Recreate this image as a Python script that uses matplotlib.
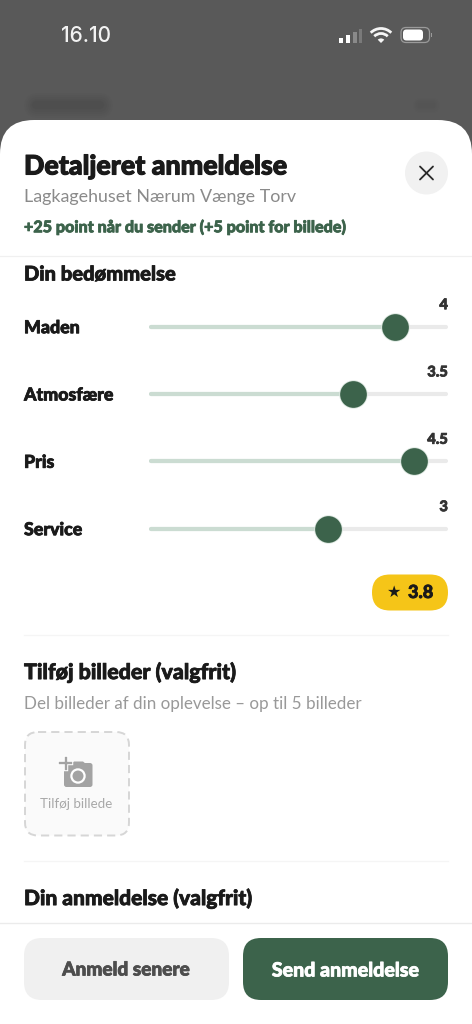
import matplotlib
matplotlib.use("Agg")
import matplotlib.pyplot as plt
import matplotlib.patheffects as pe
from matplotlib.patches import FancyBboxPatch, Circle, Rectangle, Arc, Wedge, Polygon

# --- data ---
categories = ["Maden", "Atmosfære", "Pris", "Service"]
rating_labels = ["4", "3.5", "4.5", "3"]
knob_fractions = [0.823, 0.682, 0.886, 0.600]
overall_rating = "3.8"

W, H = 472, 1024
GREEN = "#3C634B"
DARK = "#1A1A1A"
HEAVY = dict(family="Lato", weight=900)
REG = dict(family="Lato", weight=400)

fig = plt.figure(figsize=(W / 100, H / 100), dpi=100, facecolor="white")
ax = fig.add_axes([0, 0, 1, 1])
ax.set_xlim(0, W)
ax.set_ylim(H, 0)
ax.axis("off")


def rbox(x0, y0, x1, y1, r, **kw):
    p = FancyBboxPatch((x0 + r, y0 + r), x1 - x0 - 2 * r, y1 - y0 - 2 * r,
                       boxstyle=f"round,pad={r},rounding_size={r}", **kw)
    ax.add_patch(p)
    return p


def T(x, y, s, size, color=DARK, font=HEAVY, ha="left", target=None, stroke=None):
    t = (target or ax).text(x, y, s, fontsize=size, color=color, ha=ha, va="center", **font)
    if font is HEAVY:
        sw = stroke if stroke is not None else 0.55
        t.set_path_effects([pe.withStroke(linewidth=sw, foreground=color)])
    return t


# dim backdrop
ax.add_patch(Rectangle((0, 0), W, 200, fc="#595959", ec="none", zorder=0))
for lw, al in [(18, .03), (15, .04), (12, .05), (9, .06), (6, .07)]:
    ax.plot([36, 100], [105, 105], color="#333333", lw=lw, alpha=al, solid_capstyle="round", zorder=1)
    ax.plot([420, 432], [105, 105], color="#4a4a4a", lw=lw * .6, alpha=al * .5, solid_capstyle="round", zorder=1)

# status bar
T(61, 36, "16.10", 15, color="#F2F2F2", font=dict(family="Inter", weight=500))
for x, h, c in [(339, 5, "#FFFFFF"), (346, 8, "#FFFFFF"), (353, 11, "#8a8a8a"), (358.5, 14, "#7a7a7a")]:
    ax.add_patch(Rectangle((x, 42.5 - h), 3.8, h, fc=c, ec="none", zorder=3))
for r, lw in [(14.5, 2.0), (9.5, 2.0)]:
    ax.add_patch(Arc((381, 43), 2 * r, 2 * r, theta1=225, theta2=315, color="#F5F5F5", lw=lw, zorder=3))
ax.add_patch(Wedge((381, 43), 4.6, 225, 315, fc="#F5F5F5", ec="none", zorder=3))
rbox(401, 27.5, 429.5, 42.5, 5, fc="none", ec="#9a9a9a", lw=0.9, zorder=3)
rbox(403, 29.5, 423, 40.5, 3.5, fc="#FFFFFF", ec="none", zorder=4)
ax.add_patch(Rectangle((431, 33), 1.2, 4, fc="#9a9a9a", ec="none", zorder=3))

# sheet
rbox(0, 120, W, H + 60, 34, fc="white", ec="none", zorder=2)

# header
T(24, 166.5, "Detaljeret anmeldelse", 19.3, stroke=0.8)
T(24, 197, "Lagkagehuset Nærum Vænge Torv", 12.85, color="#8A8A8A", font=REG)
T(24, 227, "+25 point når du sender (+5 point for billede)", 11.6, color=GREEN)
ax.add_patch(Circle((426.5, 173), 21.5, fc="#F1F1F1", ec="none", zorder=3))
for dx in (-6.5, 6.5):
    ax.plot([426.5 - dx, 426.5 + dx], [166.5, 179.5], color="#2A2A2A", lw=1.3, zorder=4, solid_capstyle="round")
ax.plot([0, W], [255.5, 255.5], color="#F0F0F0", lw=0.9, zorder=3)

# ratings
T(24, 274, "Din bedømmelse", 14.5)
ROW_Y = [326.7, 394, 461.3, 528.7]
sx = fig.add_axes([149 / W, 0, 299 / W, 1])
sx.set_xlim(0, 1)
sx.set_ylim(H, 0)
sx.axis("off")
sx.patch.set_alpha(0)
for y, cat, lab, f in zip(ROW_Y, categories, rating_labels, knob_fractions):
    T(24, y + 1, cat, 12.8)
    sx.plot([0.007, 0.993], [y, y], color="#EAEAEA", lw=3.0, solid_capstyle="round", zorder=2)
    sx.plot([0.007, f], [y, y], color="#CBDCD2", lw=3.0, solid_capstyle="round", zorder=3)
    sx.scatter([f], [y], s=420, color="#DDE8E1", lw=0, zorder=4)
    sx.scatter([f], [y], s=370, color=GREEN, lw=0, zorder=5)
    T(1.0, y - 21.5, lab, 10.6, color="#333333", ha="right", target=sx)

# overall pill
rbox(372, 574.5, 448, 610.5, 18, fc="#F5C518", ec="none", zorder=3)
ax.text(394.5, 592.5, "★", fontsize=11.5, color=DARK, ha="center", va="center", family="DejaVu Sans", zorder=4)
T(408, 592.5, overall_rating, 13)

ax.plot([24, 448], [634.5, 634.5], color="#F5F5F5", lw=0.9, zorder=3)

# photos
T(24, 672.5, "Tilføj billeder (valgfrit)", 15.4)
T(24, 704.5, "Del billeder af din oplevelse – op til 5 billeder", 12.25, color="#999999", font=REG)
rbox(25, 732, 129, 835.5, 13, fc="#FAFAFA", ec="#D6D6D6", lw=1.4, ls=(0, (4.2, 2.6)), zorder=3)
rbox(64, 763, 92.5, 787, 2.5, fc="#A3A3A3", ec="none", zorder=4)
ax.add_patch(Polygon([[71, 764], [74, 761.5], [83, 761.5], [86, 764]], fc="#A3A3A3", ec="none", zorder=4))
ax.add_patch(Circle((78, 776), 6.6, fc="#A3A3A3", ec="white", lw=1.6, zorder=5))
ax.plot([60, 71], [763, 763], color="white", lw=3.2, zorder=4.5)
ax.plot([65.5, 65.5], [757.5, 768.5], color="white", lw=3.2, zorder=4.5)
ax.plot([60, 71], [763, 763], color="#A3A3A3", lw=1.7, zorder=6)
ax.plot([65.5, 65.5], [757.5, 768.5], color="#A3A3A3", lw=1.7, zorder=6)
T(76.5, 803.5, "Tilføj billede", 9.6, color="#A8A8A8", font=REG, ha="center")

ax.plot([24, 448], [861, 861], color="#F5F5F5", lw=0.9, zorder=3)

# review
T(24, 898.5, "Din anmeldelse (valgfrit)", 15.1)
ax.plot([0, W], [923, 923], color="#EBEBEB", lw=1.0, zorder=3)

# buttons
rbox(24, 938, 229, 1000, 18, fc="#F0F0F0", ec="none", zorder=3)
rbox(243, 938, 448, 1000, 18, fc=GREEN, ec="none", zorder=3)
T(126, 970, "Anmeld senere", 13.7, color="#4D4D4D", ha="center")
T(345.5, 970, "Send anmeldelse", 14.1, color="#FFFFFF", ha="center")

for t in ax.texts + sx.texts:
    t.set_zorder(10)

fig.savefig("out.png", dpi=100, facecolor="white")
